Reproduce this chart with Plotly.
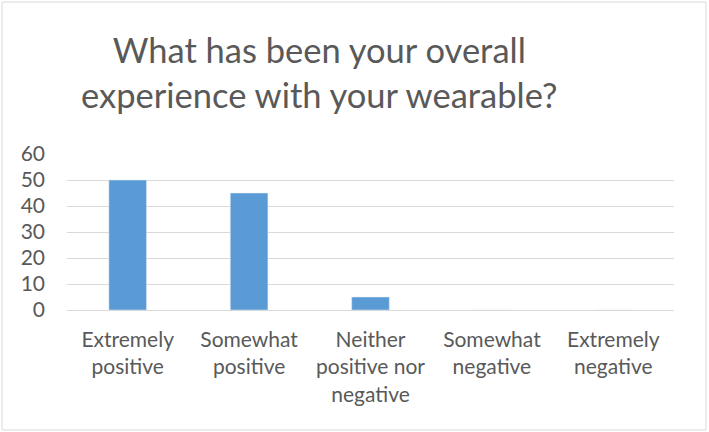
import plotly.graph_objects as go

categories = ["Extremely<br>positive", "Somewhat<br>positive", "Neither<br>positive nor<br>negative",
              "Somewhat<br>negative", "Extremely<br>negative"]
values = [50, 45, 5, 0, 0]
y_ticks = [0, 10, 20, 30, 40, 50, 60]
title_text = "What has been your overall<br>experience with your wearable?"

W, H = 709, 432
L, R, T, B = 67, 35, 154, 122
font = "Lato"
grey = "#595959"

fig = go.Figure(go.Bar(x=categories, y=values, marker_color="#5b9bd5", width=0.31))

fig.update_layout(
    width=W, height=H,
    margin=dict(l=L, r=R, t=T, b=B),
    paper_bgcolor="white", plot_bgcolor="white",
    font=dict(family=font, color=grey, size=21),
    showlegend=False,
    bargap=0.69,
)
fig.update_xaxes(showgrid=False, showline=False, ticks="", ticklabelstandoff=15,
                 tickfont=dict(size=21, color=grey))
fig.update_yaxes(range=[0, 60], tickvals=y_ticks, showgrid=True, gridcolor="#d9d9d9", gridwidth=1,
                 zeroline=True, zerolinecolor="#d9d9d9", zerolinewidth=1,
                 ticks="", ticklabelstandoff=21, tickfont=dict(size=21, color=grey))

fig.add_annotation(text=title_text, xref="paper", yref="paper",
                   x=(319 - L) / (W - L - R), y=1, yshift=37, xanchor="center", yanchor="bottom",
                   showarrow=False, font=dict(size=34.5, color=grey, family=font), align="center")

fig.add_shape(type="rect", xref="paper", yref="paper",
              x0=-(L - 2) / (W - L - R), x1=1 + (R - 3) / (W - L - R),
              y0=-(B - 2) / (H - T - B), y1=1 + (T - 2) / (H - T - B),
              line=dict(color="#d9d9d9", width=1), fillcolor="rgba(0,0,0,0)", layer="below")

fig.write_html("out.html")
